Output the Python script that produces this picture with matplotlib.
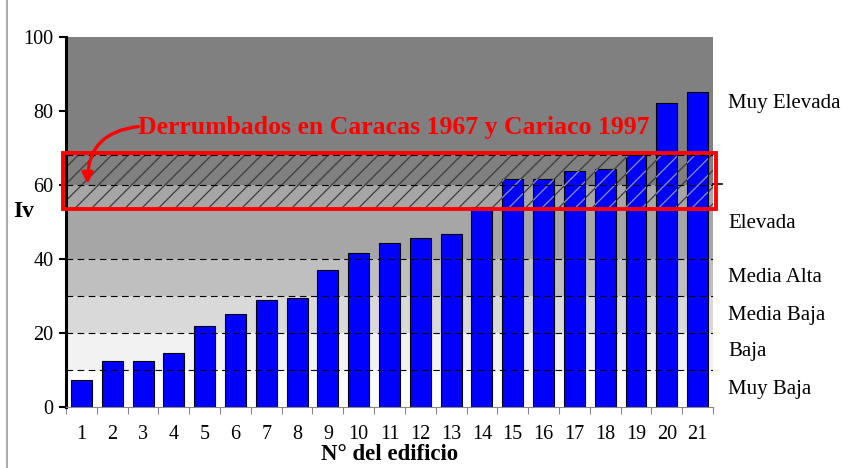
import matplotlib.pyplot as plt
import matplotlib.patches as mpatches
import matplotlib.transforms as mtransforms
import numpy as np

plt.rcParams['font.family'] = ['Liberation Serif', 'DejaVu Serif']

edificios = np.arange(1, 22)
iv = [7.3, 12.4, 12.4, 14.6, 21.9, 25.1, 28.9, 29.5, 37.0, 41.6, 44.3,
      45.7, 46.8, 54.0, 61.6, 61.6, 63.8, 64.3, 68.1, 82.2, 85.1]

band_edges = [0, 10, 20, 30, 40, 60, 100]
band_colors = ['#ffffff', '#f2f2f2', '#d9d9d9', '#bfbfbf', '#a6a6a6', '#808080']
dash_levels = [10, 20, 30, 40, 60, 68]

niveles = ['Muy Elevada', 'Elevada', 'Media Alta', 'Media Baja', 'Baja', 'Muy Baja']
niveles_y = [82, 49.5, 35, 24.6, 15, 4.6]

zona_derrumbe = (54, 68)

fig = plt.figure(figsize=(8.42, 4.68), dpi=100)
ax = fig.add_axes([0.0784, 0.1303, 0.7684, 0.7906])

for i in range(len(band_colors)):
    ax.axhspan(band_edges[i], band_edges[i + 1], color=band_colors[i], zorder=0, lw=0)

plt.rcParams['hatch.linewidth'] = 0.9
# hatch on background
ax.add_patch(mpatches.Rectangle((0.5, zona_derrumbe[0]), 21, zona_derrumbe[1] - zona_derrumbe[0],
                                facecolor='none', edgecolor='#3c3c3c', hatch='//', lw=0, zorder=1))

ax.bar(edificios, iv, width=0.68, color='#0000ff', edgecolor='black', linewidth=0.8, zorder=2)

# hatch over the bars (lighter)
iv_arr = np.array(iv)
h = np.clip(iv_arr, zona_derrumbe[0], zona_derrumbe[1]) - zona_derrumbe[0]
ax.bar(edificios, h, bottom=zona_derrumbe[0], width=0.68, facecolor='none',
       edgecolor='#9090b0', hatch='//', linewidth=0, zorder=2.5)

for y in dash_levels:
    ax.axhline(y, color='black', lw=0.8, ls=(0, (6, 4)), zorder=3)

# red frame
trans = mtransforms.blended_transform_factory(ax.transAxes, ax.transData)
ax.add_patch(mpatches.Rectangle((-0.004, 53.5), 1.008, 15.1, transform=trans, fill=False,
                                edgecolor='#ff0000', lw=2.8, zorder=5, clip_on=False))

ax.text(11.15, 75.5, 'Derrumbados en Caracas 1967 y Cariaco 1997', color='#ff0000',
        fontsize=18.5, fontweight='bold', ha='center', va='center', zorder=6)
ax.annotate('', xy=(1.2, 60.3), xytext=(2.85, 75.8),
            arrowprops=dict(arrowstyle='-|>', color='#ff0000', lw=2.4, mutation_scale=16,
                            shrinkA=0, shrinkB=0,
                            connectionstyle='arc3,rad=0.45'), zorder=6)

ax.set_xlim(0.5, 21.5)
ax.set_ylim(0, 100)
ax.set_yticks([0, 20, 40, 60, 80, 100])
ax.set_xticks(edificios)
ax.set_xticks(np.arange(0.5, 22, 1), minor=True)
ax.tick_params(axis='x', which='major', length=0, labelsize=14.5, pad=13)
ax.tick_params(axis='x', which='minor', length=5, color='#888888', width=0.8)
ax.tick_params(axis='y', length=5, width=1.5, labelsize=14.5, pad=4)

for s in ['top', 'right']:
    ax.spines[s].set_visible(False)
ax.spines['left'].set_linewidth(2.2)
ax.spines['bottom'].set_color('#888888')
ax.spines['bottom'].set_linewidth(0.8)

# small tick on right side at 60
ax.plot([1.0, 1.014], [60.3, 60.3], transform=trans, color='black', lw=1.2, clip_on=False)

for lab, y in zip(niveles, niveles_y):
    ax.text(1.023, y, lab, transform=trans, fontsize=15, va='center', ha='left')

ax.set_ylabel('Iv', fontsize=17, fontweight='bold', rotation=0)
ax.yaxis.set_label_coords(-0.066, 0.5)
ax.set_xlabel('N° del edificio', fontsize=16.5, fontweight='bold', labelpad=0)

fig.add_artist(plt.Line2D([0.0083, 0.0083], [0, 1], color='#999999', lw=1.2))

fig.savefig('out.png', dpi=100)
